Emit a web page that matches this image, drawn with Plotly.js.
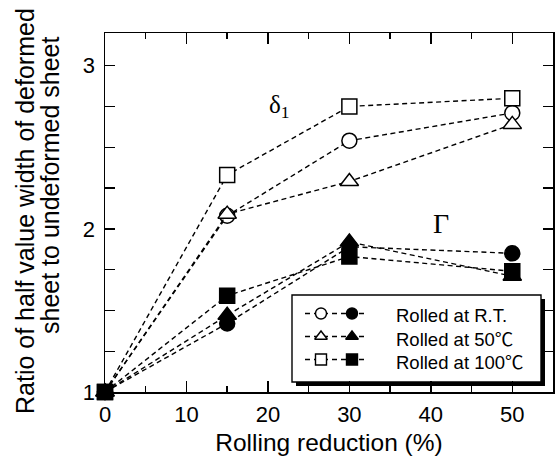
<!DOCTYPE html>
<html>
<head>
<meta charset="utf-8">
<script src="https://cdn.plot.ly/plotly-3.0.1.min.js"></script>
<style>html,body{margin:0;padding:0;background:#fff;}#chart{width:555px;height:468px;}</style>
</head>
<body>
<div id="chart"></div>
<script>
// ---- data ----
const reduction = [0, 15, 30, 50];
const delta1_RT = [1, 2.08, 2.54, 2.71];
const delta1_50C = [1, 2.09, 2.29, 2.64];
const delta1_100C = [1, 2.33, 2.75, 2.80];
const gamma_RT = [1, 1.42, 1.89, 1.85];
const gamma_50C = [1, 1.47, 1.92, 1.71];
const gamma_100C = [1, 1.59, 1.83, 1.74];
const legendLabels = ["Rolled at R.T.", "Rolled at 50\u2103", "Rolled at 100\u2103"];
const xTickVals = [0, 10, 20, 30, 40, 50];
const yTickVals = [1, 2, 3];

const FONT = "Liberation Sans, Arial, sans-serif";
const SERIF = "Liberation Serif, Times New Roman, serif";
const dashStyle = "5px,3.5px";

function series(y, symbol, size, filled) {
  return {
    x: reduction, y: y, type: "scatter", mode: "lines+markers",
    line: {color: "black", width: 1.4, dash: dashStyle},
    marker: {symbol: symbol, size: size, color: filled ? "black" : "white",
             line: {color: "black", width: 1.5}},
    cliponaxis: false, showlegend: false, hoverinfo: "skip"
  };
}

const traces = [
  series(delta1_RT, "circle", 15, false),
  series(delta1_50C, "triangle-up", 16, false),
  series(delta1_100C, "square", 15, false),
  series(gamma_RT, "circle", 15, true),
  series(gamma_50C, "triangle-up", 16, true),
  series(gamma_100C, "square", 15, true)
];

// ---- hand-drawn legend (pixel-like overlay axes) ----
const legRows = [313.5, 336.5, 359.5];
const legSymbols = ["circle", "triangle-up", "square"];
legRows.forEach((ry, i) => {
  traces.push({x: [305, 368], y: [ry, ry], xaxis: "x2", yaxis: "y2", type: "scatter", mode: "lines",
    line: {color: "black", width: 1.4, dash: "5px,4px"}, showlegend: false, hoverinfo: "skip"});
  traces.push({x: [321], y: [ry], xaxis: "x2", yaxis: "y2", type: "scatter", mode: "markers",
    marker: {symbol: legSymbols[i], size: 11, color: "white", line: {color: "black", width: 1.4}},
    showlegend: false, hoverinfo: "skip"});
  traces.push({x: [352], y: [ry], xaxis: "x2", yaxis: "y2", type: "scatter", mode: "markers",
    marker: {symbol: legSymbols[i], size: 11, color: "black", line: {color: "black", width: 1.4}},
    showlegend: false, hoverinfo: "skip"});
});

function withCJKDegree(s) {
  return s.replace("\u2103", "<span style=\"font-family:'Noto Sans CJK JP'\">\u2103</span>");
}

const annotations = [
  {xref: "x", yref: "y", x: 21.4, y: 2.75, text: "\u03b4<sub>1</sub>", showarrow: false,
   font: {family: SERIF, size: 25, color: "black"}},
  {xref: "x", yref: "y", x: 41.3, y: 2.03, text: "\u0393", showarrow: false,
   font: {family: SERIF, size: 28, color: "black"}},
  {xref: "paper", yref: "paper", x: (25 - 105) / 448, y: (392 - 211) / 359, xanchor: "center", yanchor: "middle",
   text: "Ratio of half value width of deformed", textangle: -90, showarrow: false,
   font: {family: FONT, size: 25, color: "black"}},
  {xref: "paper", yref: "paper", x: (50 - 105) / 448, y: (392 - 186) / 359, xanchor: "center", yanchor: "middle",
   text: "sheet to undeformed sheet", textangle: -90, showarrow: false,
   font: {family: FONT, size: 25, color: "black"}}
];
legRows.forEach((ry, i) => {
  annotations.push({xref: "x2", yref: "y2", x: 394, y: ry + 1.5, xanchor: "left", yanchor: "middle",
    text: withCJKDegree(legendLabels[i]), showarrow: false, font: {family: FONT, size: 18.5, color: "black"}});
});

const layout = {
  width: 555, height: 468,
  margin: {l: 105, r: 2, t: 33, b: 76},
  paper_bgcolor: "white", plot_bgcolor: "rgba(0,0,0,0)",
  font: {family: FONT, color: "black"},
  showlegend: false,
  xaxis: {
    range: [0, 55], tickvals: xTickVals, ticks: "inside", ticklen: 11, tickwidth: 1.4, tickcolor: "black",
    minor: {dtick: 5, tick0: 0, ticks: "inside", ticklen: 6, tickwidth: 1.4, tickcolor: "black", showgrid: false},
    showline: true, linecolor: "black", linewidth: 1.5, mirror: "ticks", showgrid: false, zeroline: false,
    tickfont: {family: FONT, size: 22, color: "black"}, ticklabelstandoff: 2,
    title: {text: "Rolling reduction (%)", font: {family: FONT, size: 24.5, color: "black"}, standoff: 8}
  },
  yaxis: {
    range: [1, 3.2], tickvals: yTickVals, ticks: "inside", ticklen: 10, tickwidth: 1.4, tickcolor: "black",
    minor: {dtick: 0.25, tick0: 1, ticks: "inside", ticklen: 10, tickwidth: 1.4, tickcolor: "black", showgrid: false},
    showline: true, linecolor: "black", linewidth: 1.5, mirror: "ticks", showgrid: false, zeroline: false,
    tickfont: {family: FONT, size: 22, color: "black"}, ticklabelstandoff: 4
  },
  xaxis2: {overlaying: "x", anchor: "y2", range: [105, 553], visible: false, fixedrange: true},
  yaxis2: {overlaying: "y", anchor: "x2", range: [392, 33], visible: false, fixedrange: true},
  shapes: [
    {type: "rect", xref: "x2", yref: "y2", x0: 296, x1: 545, y0: 299, y1: 386, fillcolor: "black", line: {width: 0}, layer: "below"},
    {type: "rect", xref: "x2", yref: "y2", x0: 292, x1: 541, y0: 295, y1: 382, fillcolor: "white", line: {color: "black", width: 1.4}, layer: "below"}
  ],
  annotations: annotations
};

Plotly.newPlot("chart", traces, layout, {displayModeBar: false, staticPlot: true});
</script>
</body>
</html>
